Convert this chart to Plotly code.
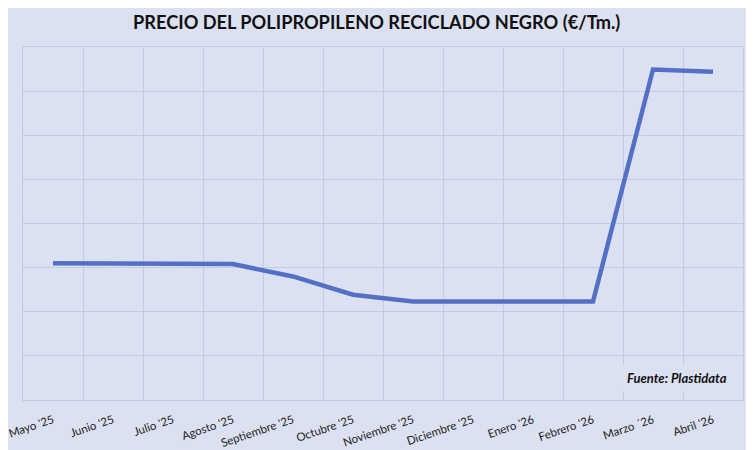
import plotly.graph_objects as go

# Datos
meses = ["Mayo '25", "Junio '25", "Julio '25", "Agosto '25", "Septiembre '25",
         "Octubre '25", "Noviembre '25", "Diciembre '25", "Enero '26",
         "Febrero '26", "Marzo ´26", "Abril '26"]
precio = [620, 618, 614, 616, 560, 477, 446, 446, 446, 446, 1498, 1488]

bg = "#dce1f2"
grid = "#c3cae6"

fig = go.Figure()
fig.add_trace(go.Scatter(
    x=meses, y=precio, mode="lines",
    line=dict(color="#5470c4", width=4.5),
    hoverinfo="skip"
))

# the page body adds an 8px offset, margins compensate for it
fig.update_layout(
    width=754, height=450,
    margin=dict(l=15, r=19, t=39, b=58),
    paper_bgcolor=bg, plot_bgcolor=bg,
    showlegend=False,
    font=dict(family="Lato", color="#222222"),
    title=dict(text="<b>PRECIO DEL POLIPROPILENO RECICLADO NEGRO (€/Tm.)</b>",
               x=0.489, xanchor="center", y=0.967, yanchor="middle",
               font=dict(size=18.2, color="#111111")),
)

fig.update_xaxes(
    type="category", range=[-0.5, 11.5], tickson="boundaries",
    showgrid=True, gridcolor=grid, gridwidth=1,
    showline=True, linecolor=grid, mirror=True,
    ticks="", tickangle=-19, ticklabelstandoff=8,
    tickfont=dict(size=11.5, color="#222222"),
    automargin=False, fixedrange=True
)
fig.update_yaxes(
    range=[0, 1600], dtick=200, showticklabels=False,
    showgrid=True, gridcolor=grid, gridwidth=1, zeroline=False,
    showline=True, linecolor=grid, mirror=True,
    automargin=False, fixedrange=True
)

fig.add_annotation(
    text="<b><i>Fuente: Plastidata</i></b>",
    xref="paper", yref="paper", x=0.986, y=0.063,
    xanchor="right", yanchor="middle", showarrow=False,
    bgcolor=bg, borderpad=5,
    font=dict(size=13, color="#111111")
)

fig.write_html("out.html")
